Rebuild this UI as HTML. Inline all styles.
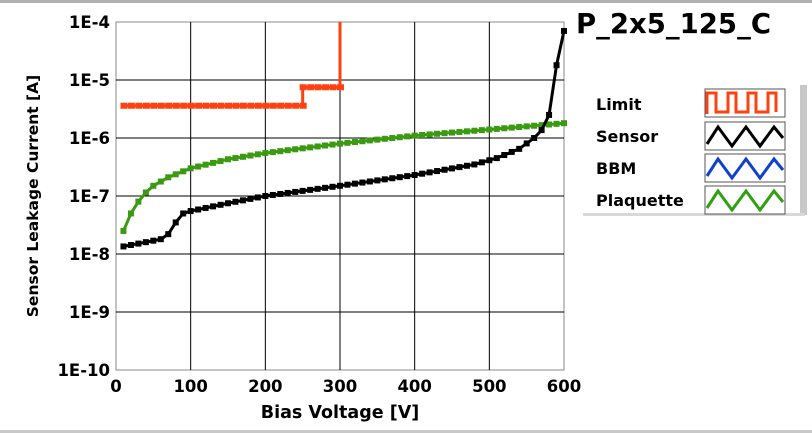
<!DOCTYPE html>
<html><head><style>
body{margin:0;background:#fff;}
svg{display:block;font-family:"DejaVu Sans","Liberation Sans",sans-serif;font-weight:bold;}
</style></head><body>
<svg id="s" width="812" height="433" viewBox="0 0 812 433" xmlns="http://www.w3.org/2000/svg">
<rect x="0" y="0" width="812" height="3" fill="#b0b0b0"/>
<rect x="0" y="430" width="812" height="3" fill="#c8c8c8"/>
<rect x="116" y="22" width="448" height="348" fill="#fff" stroke="#888" stroke-width="1"/>
<g id="grid" stroke="#000" stroke-width="1"></g>
<g id="labels" font-size="16.5" fill="#000"></g>
<text x="340" y="418" font-size="17.5" text-anchor="middle">Bias Voltage [V]</text>
<text transform="translate(38,196) rotate(-90)" font-size="15.5" text-anchor="middle">Sensor Leakage Current [A]</text>
<text x="576" y="33" font-size="27.5">P_2x5_125_C</text>
<g id="data"></g>
<rect x="800" y="85" width="7" height="130" fill="#c8c8c8"/>
<rect x="583" y="213" width="222" height="3" fill="#d8d8d8"/>
<g font-size="16">
<text x="596" y="110">Limit</text><text x="596" y="142">Sensor</text>
<text x="596" y="174">BBM</text><text x="596" y="206">Plaquette</text>
</g>
<g fill="#fff" stroke="#555" stroke-width="1">
<rect x="705" y="89" width="80" height="28"/><rect x="705" y="122" width="80" height="28"/>
<rect x="705" y="154" width="80" height="28"/><rect x="705" y="186" width="80" height="28"/>
</g>
<polyline points="707,114 707,93 716,93 716,112 728,112 728,93 736,93 736,112 748,112 748,93 756,93 756,112 768,112 768,93 776,93 776,112" fill="none" stroke="#ff4010" stroke-width="3"/>
<polyline points="707,144 718,127 732,146 746,127 760,146 774,127 783,138" fill="none" stroke="#000" stroke-width="3"/>
<polyline points="707,176 718,159 732,178 746,159 760,178 774,159 783,170" fill="none" stroke="#1040d0" stroke-width="3"/>
<polyline points="707,208 718,191 732,210 746,191 760,210 774,191 783,202" fill="none" stroke="#30a010" stroke-width="3"/>
</svg>
<script>
var NS="http://www.w3.org/2000/svg";
function X(v){return 116+v*448/600;}
function Y(i){return 22-(Math.log10(i)+4)*58;}
function el(t,a,p){var e=document.createElementNS(NS,t);for(var k in a)e.setAttribute(k,a[k]);p.appendChild(e);return e;}
var g=document.getElementById('grid'),L=document.getElementById('labels');
for(var v=100;v<=500;v+=100)el('line',{x1:X(v),x2:X(v),y1:22,y2:370},g);
for(var d=-9;d<=-5;d++)el('line',{x1:116,x2:564,y1:Y(Math.pow(10,d)),y2:Y(Math.pow(10,d))},g);
for(var v=0;v<=600;v+=100){var t=el('text',{x:X(v),y:392,'text-anchor':'middle'},L);t.textContent=v;}
for(var d=-4;d>=-10;d--){var t=el('text',{x:110,y:Y(Math.pow(10,d))+6,'text-anchor':'end'},L);t.textContent='1E'+d;}
function interp(pts,v){for(var i=0;i<pts.length-1;i++){if(v>=pts[i][0]&&v<=pts[i+1][0]){var f=(v-pts[i][0])/(pts[i+1][0]-pts[i][0]);return Math.pow(10,Math.log10(pts[i][1])*(1-f)+Math.log10(pts[i+1][1])*f);}}return pts[pts.length-1][1];}
var D=document.getElementById('data');
function series(pts,col,step){var P=[];for(var v=10;v<=600;v+=step){P.push([X(v),Y(interp(pts,v))]);}
el('polyline',{points:P.map(function(p){return p.join(',')}).join(' '),fill:'none',stroke:col,'stroke-width':3},D);
P.forEach(function(p){el('rect',{x:p[0]-3,y:p[1]-3,width:6,height:6,fill:col},D);});}
var green=[[10,2.5e-8],[20,5e-8],[30,8e-8],[40,1.15e-7],[50,1.5e-7],[70,2.1e-7],[100,3e-7],[150,4.3e-7],[200,5.5e-7],[300,8e-7],[400,1.1e-6],[500,1.4e-6],[600,1.8e-6]];
var black=[[10,1.35e-8],[40,1.6e-8],[60,1.8e-8],[70,2.2e-8],[80,3.5e-8],[90,5e-8],[100,5.5e-8],[150,7.5e-8],[200,1e-7],[300,1.5e-7],[400,2.3e-7],[480,3.5e-7],[510,4.5e-7],[540,6.5e-7],[560,1e-6],[575,1.6e-6],[580,2.5e-6],[590,1.8e-5],[600,7e-5]];
series(green,'#3a9a10',10);
series(black,'#000',10);
var P=[];for(var v=10;v<=250;v+=10)P.push([X(v),Y(3.6e-6)]);
var Q=[];for(var v=250;v<=300;v+=10)Q.push([X(v),Y(7.5e-6)]);
var all=P.concat(Q).concat([[X(300),22]]);
el('polyline',{points:all.map(function(p){return p.join(',')}).join(' '),fill:'none',stroke:'#ff4010','stroke-width':3},D);
P.concat(Q).forEach(function(p){el('rect',{x:p[0]-3,y:p[1]-3,width:7,height:6,fill:'#ff4010'},D);});
</script>
</body></html>
